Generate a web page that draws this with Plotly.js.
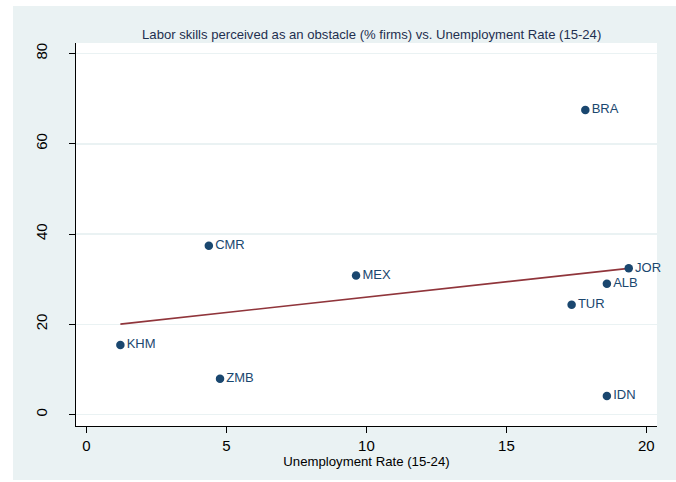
<!DOCTYPE html>
<html>
<head>
<meta charset="utf-8">
<script src="https://cdn.plot.ly/plotly-3.0.1.min.js"></script>
<style>
  html, body { margin: 0; padding: 0; background: #ffffff; }
  #chart { position: absolute; left: 13px; top: 6px; width: 663px; height: 474px; }
</style>
</head>
<body>
<div id="chart"></div>
<script>
// Country codes and their two indicators
const countries = ["BRA", "CMR", "MEX", "JOR", "ALB", "TUR", "KHM", "ZMB", "IDN"];
const unemploymentYouth = [17.82, 4.37, 9.63, 19.37, 18.59, 17.33, 1.21, 4.77, 18.59];
const laborSkillsObstacle = [67.5, 37.4, 30.8, 32.4, 29.0, 24.3, 15.4, 7.9, 4.1];

// Axis ticks
const xTicks = [0, 5, 10, 15, 20];
const yTicks = [0, 20, 40, 60, 80];

// Least-squares linear fit across the observed x span
function linearFit(xs, ys) {
  const n = xs.length;
  const mx = xs.reduce((a, b) => a + b, 0) / n;
  const my = ys.reduce((a, b) => a + b, 0) / n;
  let sxy = 0, sxx = 0;
  for (let i = 0; i < n; i++) {
    sxy += (xs[i] - mx) * (ys[i] - my);
    sxx += (xs[i] - mx) * (xs[i] - mx);
  }
  const slope = sxy / sxx;
  const intercept = my - slope * mx;
  const x0 = Math.min(...xs), x1 = Math.max(...xs);
  return { x: [x0, x1], y: [intercept + slope * x0, intercept + slope * x1] };
}
const fit = linearFit(unemploymentYouth, laborSkillsObstacle);

const navy = "#1a476f";
const maroon = "#90353b";
const panel = "#eaf2f3";

const traces = [
  {
    type: "scatter",
    mode: "lines",
    x: fit.x,
    y: fit.y,
    line: { color: maroon, width: 1.6 },
    hoverinfo: "skip",
    showlegend: false
  },
  {
    type: "scatter",
    mode: "markers+text",
    x: unemploymentYouth,
    y: laborSkillsObstacle,
    text: countries,
    textposition: "middle right",
    cliponaxis: false,
    textfont: { family: "Liberation Sans, Arial, sans-serif", size: 13, color: navy },
    marker: { color: navy, size: 8.5 },
    showlegend: false
  }
];

const layout = {
  width: 663,
  height: 474,
  paper_bgcolor: panel,
  plot_bgcolor: "#ffffff",
  margin: { l: 63, r: 19, t: 37, b: 54 },
  font: { family: "Liberation Sans, Arial, sans-serif", color: "#000000" },
  title: {
    text: "Labor skills perceived as an obstacle (% firms) vs. Unemployment Rate (15-24)",
    font: { size: 13.1, color: "#1e2f4f" },
    x: 0.541,
    xanchor: "center",
    y: 0.94,
    yanchor: "middle"
  },
  xaxis: {
    range: [-0.375, 20.38],
    tickvals: xTicks,
    ticktext: xTicks.map(String),
    showgrid: false,
    zeroline: false,
    showline: true,
    linecolor: "#000000",
    linewidth: 1,
    ticks: "outside",
    ticklen: 6,
    tickcolor: "#000000",
    tickfont: { size: 15 },
    title: {
      text: "Unemployment Rate (15-24)",
      font: { size: 13.2, color: "#000000" },
      standoff: 1
    }
  },
  yaxis: {
    range: [-2.55, 82.33],
    tickvals: yTicks,
    ticktext: yTicks.map(String),
    tickangle: -90,
    showgrid: true,
    gridcolor: panel,
    gridwidth: 1.5,
    zeroline: false,
    showline: true,
    linecolor: "#000000",
    linewidth: 1,
    ticks: "outside",
    ticklen: 6,
    tickcolor: "#000000",
    tickfont: { size: 15 },
    ticklabelstandoff: 16
  }
};

Plotly.newPlot("chart", traces, layout, { displayModeBar: false, staticPlot: true });
</script>
</body>
</html>
